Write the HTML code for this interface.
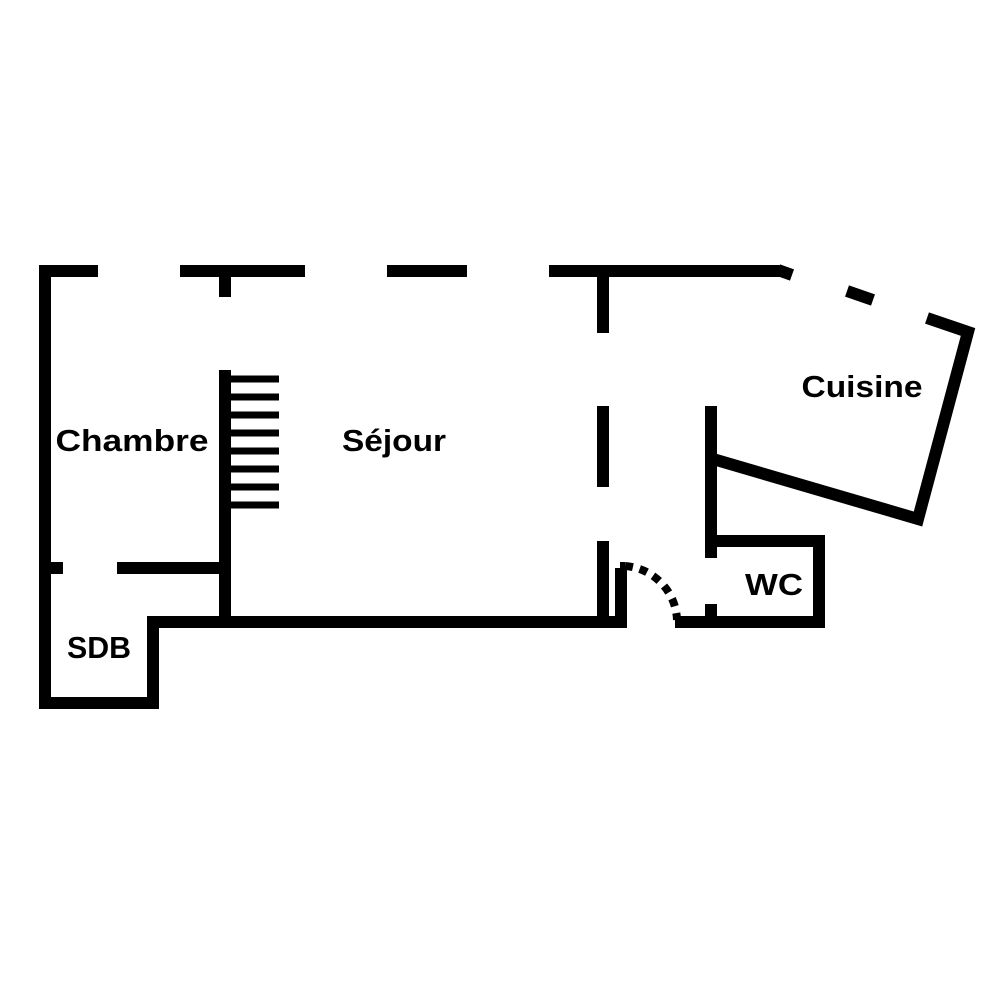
<!DOCTYPE html>
<html><head><meta charset="utf-8"><style>html,body{margin:0;padding:0;background:#fff}svg{display:block}</style></head>
<body>
<svg width="1000" height="1000" viewBox="0 0 1000 1000" xmlns="http://www.w3.org/2000/svg">
<g stroke="#000" stroke-width="12" fill="none" stroke-linecap="butt" stroke-linejoin="miter">
<path d="M98 271 H45 V703 H153 V622 H225"/>
<line x1="180" y1="271" x2="305" y2="271"/>
<line x1="387" y1="271" x2="467" y2="271"/>
<line x1="549" y1="271" x2="780" y2="271"/>
<line x1="225" y1="265" x2="225" y2="297"/>
<line x1="778" y1="270" x2="792" y2="275"/>
<line x1="847" y1="291" x2="873" y2="300"/>
<path d="M927 318 L968 332 L918 519 L713 459"/>
<line x1="225" y1="370" x2="225" y2="628"/>
<g stroke-width="7">
<line x1="231" y1="379" x2="279" y2="379"/>
<line x1="231" y1="397" x2="279" y2="397"/>
<line x1="231" y1="415" x2="279" y2="415"/>
<line x1="231" y1="433" x2="279" y2="433"/>
<line x1="231" y1="451" x2="279" y2="451"/>
<line x1="231" y1="469" x2="279" y2="469"/>
<line x1="231" y1="487" x2="279" y2="487"/>
<line x1="231" y1="505" x2="279" y2="505"/>
</g>
<line x1="39" y1="568" x2="63" y2="568"/>
<line x1="117" y1="568" x2="225" y2="568"/>
<line x1="219" y1="622" x2="627" y2="622"/>
<line x1="675" y1="622" x2="825" y2="622"/>
<line x1="603" y1="271" x2="603" y2="333"/>
<line x1="603" y1="406" x2="603" y2="487"/>
<line x1="603" y1="541" x2="603" y2="622"/>
<line x1="621" y1="568" x2="621" y2="628"/>
<line x1="622.5" y1="562" x2="622.5" y2="570" stroke-width="5"/>
<line x1="711" y1="406" x2="711" y2="558"/>
<line x1="711" y1="604" x2="711" y2="622"/>
<path d="M711 541 H819 V628"/>
</g>
<path d="M625 566 A56 56 0 0 1 677 620" stroke="#000" stroke-width="8" fill="none" stroke-dasharray="8 7"/>
<g font-family="Liberation Sans, sans-serif" font-weight="bold" font-size="31" fill="#000" text-anchor="middle">
<text x="132" y="451" textLength="153" lengthAdjust="spacingAndGlyphs">Chambre</text>
<text x="394" y="451" textLength="104" lengthAdjust="spacingAndGlyphs">Séjour</text>
<text x="862" y="397" textLength="121" lengthAdjust="spacingAndGlyphs">Cuisine</text>
<text x="774" y="595" textLength="58" lengthAdjust="spacingAndGlyphs">WC</text>
<text x="99" y="658" textLength="64" lengthAdjust="spacingAndGlyphs">SDB</text>
</g>
</svg>
</body></html>
